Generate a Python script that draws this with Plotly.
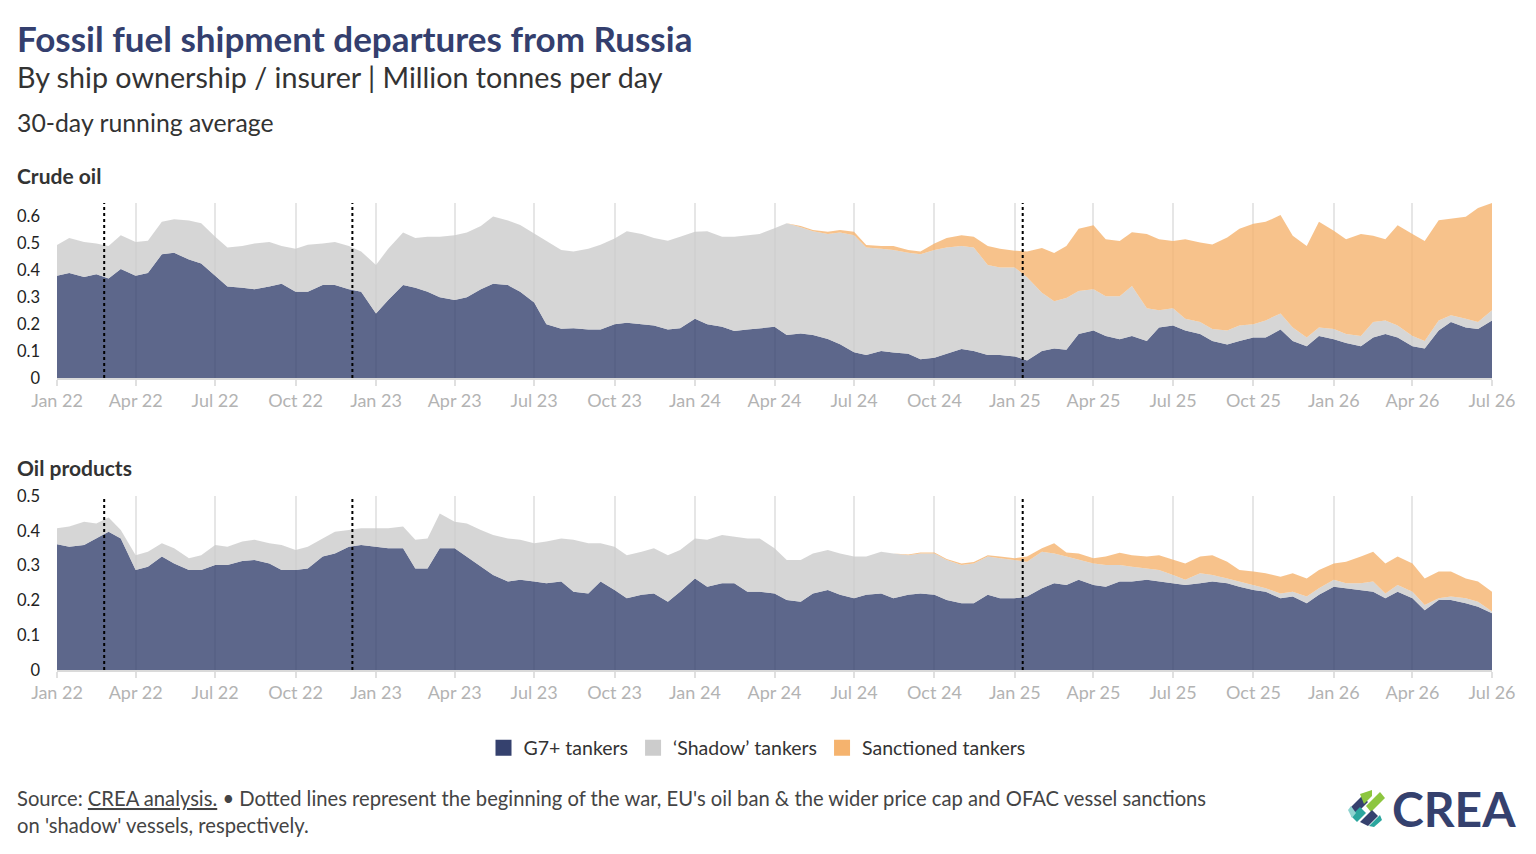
import pandas as pd
import plotly.graph_objects as go

W, H = 1536, 854
FONT = "Lato"
NAVY = "#35416e"
TEXT = "#333333"
PAGE_OFFSET = 8  # default body margin of the written page

# half-monthly samples (1st and 15th of each month), Jan 2022 - Jul 2026
dates = pd.date_range("2022-01-01", "2026-07-01", freq="SMS")

# Crude oil, million tonnes per day (30-day running average)
crude_g7 = [
    0.380, 0.390, 0.375, 0.385, 0.370, 0.405, 0.380, 0.390, 0.460, 0.465, 0.440, 0.425,
    0.380, 0.340, 0.335, 0.330, 0.340, 0.350, 0.320, 0.320, 0.345, 0.345, 0.330, 0.320,
    0.240, 0.290, 0.345, 0.335, 0.320, 0.300, 0.290, 0.300, 0.330, 0.350, 0.345, 0.320,
    0.280, 0.200, 0.183, 0.185, 0.180, 0.180, 0.200, 0.205, 0.200, 0.195, 0.180, 0.185,
    0.220, 0.200, 0.190, 0.175, 0.180, 0.185, 0.190, 0.160, 0.165, 0.160, 0.145, 0.125,
    0.096, 0.085, 0.100, 0.095, 0.090, 0.070, 0.075, 0.090, 0.108, 0.100, 0.085, 0.085,
    0.080, 0.065, 0.100, 0.110, 0.105, 0.163, 0.176, 0.156, 0.144, 0.156, 0.137, 0.188,
    0.195, 0.176, 0.163, 0.137, 0.124, 0.137, 0.150, 0.150, 0.180, 0.137, 0.118, 0.156,
    0.144, 0.130, 0.118, 0.150, 0.163, 0.150, 0.118, 0.110, 0.176, 0.208, 0.188, 0.182,
    0.214,
]
crude_shadow = [
    0.114, 0.130, 0.130, 0.115, 0.120, 0.125, 0.125, 0.120, 0.120, 0.125, 0.145, 0.150,
    0.145, 0.145, 0.155, 0.170, 0.165, 0.140, 0.160, 0.175, 0.155, 0.160, 0.160, 0.150,
    0.180, 0.190, 0.195, 0.185, 0.205, 0.225, 0.240, 0.240, 0.235, 0.250, 0.240, 0.248,
    0.257, 0.310, 0.292, 0.285, 0.300, 0.315, 0.318, 0.340, 0.335, 0.325, 0.330, 0.340,
    0.323, 0.345, 0.335, 0.350, 0.350, 0.350, 0.366, 0.415, 0.395, 0.385, 0.390, 0.415,
    0.434, 0.400, 0.380, 0.380, 0.375, 0.390, 0.400, 0.395, 0.382, 0.385, 0.335, 0.325,
    0.330, 0.309, 0.217, 0.175, 0.192, 0.160, 0.154, 0.148, 0.160, 0.186, 0.122, 0.064,
    0.064, 0.044, 0.045, 0.045, 0.052, 0.058, 0.050, 0.064, 0.060, 0.051, 0.032, 0.032,
    0.038, 0.033, 0.038, 0.058, 0.051, 0.045, 0.038, 0.027, 0.038, 0.025, 0.032, 0.026,
    0.038,
]
crude_sanctioned = [
    0.000, 0.000, 0.000, 0.000, 0.000, 0.000, 0.000, 0.000, 0.000, 0.000, 0.000, 0.000,
    0.000, 0.000, 0.000, 0.000, 0.000, 0.000, 0.000, 0.000, 0.000, 0.000, 0.000, 0.000,
    0.000, 0.000, 0.000, 0.000, 0.000, 0.000, 0.000, 0.000, 0.000, 0.000, 0.000, 0.000,
    0.000, 0.000, 0.000, 0.000, 0.000, 0.000, 0.000, 0.000, 0.000, 0.000, 0.000, 0.000,
    0.000, 0.000, 0.000, 0.000, 0.000, 0.000, 0.000, 0.000, 0.005, 0.005, 0.008, 0.010,
    0.013, 0.009, 0.010, 0.015, 0.010, 0.010, 0.025, 0.035, 0.040, 0.040, 0.070, 0.070,
    0.063, 0.096, 0.166, 0.179, 0.193, 0.231, 0.237, 0.211, 0.205, 0.199, 0.276, 0.263,
    0.250, 0.295, 0.295, 0.314, 0.346, 0.359, 0.373, 0.366, 0.365, 0.340, 0.340, 0.392,
    0.365, 0.352, 0.379, 0.320, 0.301, 0.372, 0.379, 0.372, 0.372, 0.359, 0.379, 0.423,
    0.398,
]

# Oil products, million tonnes per day (30-day running average)
prod_g7 = [
    0.361, 0.354, 0.359, 0.378, 0.397, 0.378, 0.287, 0.297, 0.326, 0.306, 0.287, 0.287,
    0.302, 0.302, 0.313, 0.316, 0.306, 0.287, 0.287, 0.292, 0.326, 0.335, 0.354, 0.359,
    0.354, 0.350, 0.350, 0.292, 0.292, 0.350, 0.350, 0.326, 0.297, 0.273, 0.254, 0.259,
    0.254, 0.249, 0.254, 0.225, 0.220, 0.254, 0.230, 0.206, 0.216, 0.220, 0.196, 0.225,
    0.263, 0.239, 0.249, 0.249, 0.225, 0.225, 0.220, 0.201, 0.196, 0.220, 0.230, 0.216,
    0.206, 0.216, 0.220, 0.206, 0.216, 0.220, 0.216, 0.201, 0.192, 0.192, 0.216, 0.206,
    0.206, 0.211, 0.235, 0.249, 0.244, 0.259, 0.244, 0.239, 0.254, 0.254, 0.259, 0.254,
    0.249, 0.244, 0.249, 0.254, 0.249, 0.239, 0.230, 0.225, 0.206, 0.211, 0.192, 0.216,
    0.239, 0.235, 0.230, 0.225, 0.206, 0.225, 0.206, 0.172, 0.201, 0.201, 0.192, 0.182,
    0.163,
]
prod_shadow = [
    0.046, 0.058, 0.067, 0.043, 0.041, 0.024, 0.043, 0.043, 0.038, 0.044, 0.034, 0.043,
    0.057, 0.052, 0.056, 0.058, 0.058, 0.072, 0.058, 0.062, 0.052, 0.062, 0.048, 0.048,
    0.053, 0.057, 0.062, 0.082, 0.086, 0.100, 0.076, 0.095, 0.105, 0.115, 0.124, 0.115,
    0.110, 0.120, 0.124, 0.149, 0.144, 0.110, 0.124, 0.124, 0.124, 0.130, 0.134, 0.120,
    0.115, 0.135, 0.139, 0.134, 0.153, 0.153, 0.130, 0.115, 0.120, 0.115, 0.115, 0.119,
    0.120, 0.110, 0.120, 0.129, 0.114, 0.115, 0.119, 0.115, 0.110, 0.114, 0.110, 0.115,
    0.110, 0.100, 0.105, 0.086, 0.082, 0.057, 0.062, 0.063, 0.048, 0.043, 0.033, 0.033,
    0.024, 0.015, 0.029, 0.019, 0.014, 0.015, 0.014, 0.010, 0.014, 0.014, 0.019, 0.019,
    0.020, 0.014, 0.019, 0.029, 0.014, 0.019, 0.019, 0.015, 0.005, 0.010, 0.014, 0.014,
    0.005,
]
prod_sanctioned = [
    0.000, 0.000, 0.000, 0.000, 0.000, 0.000, 0.000, 0.000, 0.000, 0.000, 0.000, 0.000,
    0.000, 0.000, 0.000, 0.000, 0.000, 0.000, 0.000, 0.000, 0.000, 0.000, 0.000, 0.000,
    0.000, 0.000, 0.000, 0.000, 0.000, 0.000, 0.000, 0.000, 0.000, 0.000, 0.000, 0.000,
    0.000, 0.000, 0.000, 0.000, 0.000, 0.000, 0.000, 0.000, 0.000, 0.000, 0.000, 0.000,
    0.000, 0.000, 0.000, 0.000, 0.000, 0.000, 0.000, 0.000, 0.000, 0.000, 0.000, 0.000,
    0.000, 0.000, 0.000, 0.000, 0.002, 0.003, 0.003, 0.003, 0.004, 0.004, 0.004, 0.005,
    0.005, 0.015, 0.010, 0.029, 0.012, 0.019, 0.015, 0.024, 0.035, 0.033, 0.034, 0.043,
    0.043, 0.047, 0.048, 0.057, 0.048, 0.033, 0.039, 0.043, 0.048, 0.053, 0.052, 0.052,
    0.047, 0.062, 0.077, 0.086, 0.086, 0.082, 0.081, 0.076, 0.077, 0.072, 0.057, 0.058,
    0.057,
]

# war start, EU oil ban + price cap, OFAC vessel sanctions
event_dates = ["2022-02-24", "2022-12-05", "2025-01-10"]

series_names = ["G7+ tankers", "\u2018Shadow\u2019 tankers", "Sanctioned tankers"]
series_colors = [NAVY, "#cccccc", "#f5b36e"]
series_fills = ["rgba(53,65,110,0.8)", "rgba(204,204,204,0.8)", "rgba(245,179,110,0.8)"]


# screen pixel -> paper fraction (the page body adds an 8px margin)
def px(x):
    return (x - PAGE_OFFSET) / W


def py(y):
    return 1 - (y - PAGE_OFFSET) / H


fig = go.Figure()

panels = [
    ("x", "y", "crude", [crude_g7, crude_shadow, crude_sanctioned]),
    ("x2", "y2", "prod", [prod_g7, prod_shadow, prod_sanctioned]),
]
for xa, ya, grp, vals in panels:
    for name, fill, v in zip(series_names, series_fills, vals):
        fig.add_trace(go.Scatter(
            x=dates, y=v, name=name, stackgroup=grp, mode="lines",
            line=dict(width=0), fillcolor=fill, showlegend=False,
            xaxis=xa, yaxis=ya, hoverinfo="skip",
        ))
    for d in event_dates:
        fig.add_shape(type="line", xref=xa, x0=d, x1=d,
                      yref=f"{ya} domain", y0=0, y1=1,
                      line=dict(color="black", width=2, dash="dot"))

# legend entries with solid square swatches
for name, col in zip(series_names, series_colors):
    fig.add_trace(go.Scatter(
        x=[None], y=[None], mode="markers", name=name,
        marker=dict(symbol="square", size=18, color=col),
    ))

xdom = [px(57), px(1492)]
xcommon = dict(
    domain=xdom, type="date", range=["2022-01-01", "2026-07-01"],
    tick0="2022-01-01", dtick="M3", tickformat="%b %y",
    showgrid=True, gridcolor="#e6e6e6", gridwidth=1.5,
    ticks="outside", ticklen=6, tickcolor="#e0e0e0", tickwidth=1.5,
    showline=True, linecolor="#dadada", linewidth=1.5,
    tickfont=dict(family=FONT, size=18, color="#b3b3b3"),
    zeroline=False, fixedrange=True, automargin=False,
)
ycommon = dict(
    showgrid=False, zeroline=False, showline=False, ticks="",
    tickfont=dict(family=FONT, size=16.5, color="#222"),
    dtick=0.1, tickformat="~g", ticklabelstandoff=16, fixedrange=True,
    automargin=False,
)

fig.update_layout(
    template="none",
    width=W, height=H, autosize=False,
    margin=dict(l=0, r=0, t=0, b=0, pad=0, autoexpand=False),
    paper_bgcolor="white", plot_bgcolor="white",
    font=dict(family=FONT, color=TEXT),
    xaxis=dict(anchor="y", **xcommon),
    yaxis=dict(anchor="x", domain=[py(378), py(203)], range=[0, 0.65], **ycommon),
    xaxis2=dict(anchor="y2", **xcommon),
    yaxis2=dict(anchor="x2", domain=[py(670), py(496)], range=[0, 0.5], **ycommon),
    legend=dict(orientation="h", x=px(757), xanchor="center", y=py(748), yanchor="middle",
                traceorder="normal",
                font=dict(family=FONT, size=19.5, color=TEXT),
                itemwidth=30, tracegroupgap=0, bgcolor="rgba(0,0,0,0)"),
    showlegend=True,
)

texts = [
    ("<b>Fossil fuel shipment departures from Russia</b>", 15, 38, 35, "#343f6e"),
    ("By ship ownership / insurer | Million tonnes per day", 15, 77, 28.7, TEXT),
    ("30-day running average", 15, 122, 24.8, TEXT),
    ("<b>Crude oil</b>", 15, 175, 21, TEXT),
    ("<b>Oil products</b>", 15, 467, 21, TEXT),
    ("Source: <u>CREA analysis.</u> \u2022 Dotted lines represent the beginning of the war, "
     "EU's oil ban &amp; the wider price cap and OFAC vessel sanctions", 15, 798, 20.2, "#444"),
    ("on 'shadow' vessels, respectively.", 15, 825, 20.2, "#444"),
    ("<b>CREA</b>", 1390, 808, 48, NAVY),
]
for txt, x, y, size, col in texts:
    fig.add_annotation(text=txt, xref="paper", yref="paper", x=px(x), y=py(y),
                       xanchor="left", yanchor="middle", showarrow=False,
                       font=dict(family=FONT, size=size, color=col))

# small striped logo mark next to "CREA"
logo_bars = [
    ([(1350, 808), (1362, 796), (1368, 802), (1356, 814)], "#35416e"),
    ([(1360, 794), (1372, 790), (1372, 796), (1364, 804)], "#8dc63f"),
    ([(1366, 806), (1380, 792), (1385, 798), (1371, 812)], "#8dc63f"),
    ([(1351, 816), (1360, 807), (1366, 813), (1357, 822)], "#2ba69e"),
    ([(1360, 822), (1372, 810), (1378, 816), (1368, 826)], "#35416e"),
    ([(1348, 810), (1351, 806), (1356, 813), (1352, 818)], "#8fd3d0"),
    ([(1369, 826), (1380, 815), (1382, 820), (1374, 827)], "#2ba69e"),
]
for pts, col in logo_bars:
    path = "M " + " L ".join(f"{px(x):.5f},{py(y):.5f}" for x, y in pts) + " Z"
    fig.add_shape(type="path", xref="paper", yref="paper", path=path,
                  fillcolor=col, line=dict(width=0))

fig.write_html("out.html", config={"displayModeBar": False})
